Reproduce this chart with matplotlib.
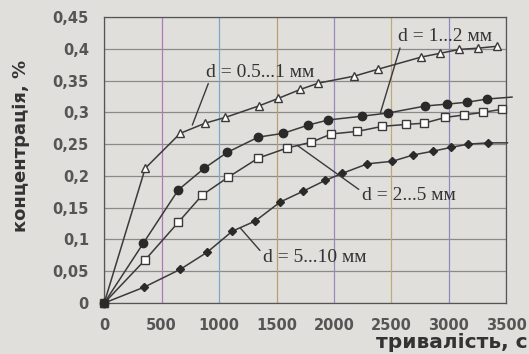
import matplotlib.pyplot as plt
import numpy as np

# d = 0.5...1 mm (triangles)
t_tri = [0, 357, 662, 880, 1054, 1345, 1516, 1707, 1865, 2178, 2387, 2761, 2927, 3092, 3258, 3423]
c_tri = [0, 0.212, 0.267, 0.283, 0.292, 0.31, 0.322, 0.336, 0.346, 0.357, 0.368, 0.387, 0.393, 0.399, 0.401, 0.404]

# d = 1...2 mm (filled circles)
t_circ = [0, 340, 645, 871, 1071, 1341, 1559, 1777, 1951, 2247, 2474, 2796, 2988, 3162, 3336]
c_circ = [0, 0.094, 0.178, 0.212, 0.237, 0.261, 0.267, 0.28, 0.288, 0.294, 0.299, 0.31, 0.313, 0.316, 0.321]

# d = 2...5 mm (open squares)
t_sq = [0, 357, 645, 854, 1080, 1341, 1594, 1803, 1977, 2204, 2422, 2631, 2787, 2970, 3136, 3301, 3467]
c_sq = [0, 0.068, 0.127, 0.17, 0.198, 0.228, 0.244, 0.253, 0.266, 0.27, 0.278, 0.281, 0.283, 0.292, 0.296, 0.30, 0.305]

# d = 5...10 mm (filled diamonds)
t_dia = [0, 348, 662, 897, 1115, 1315, 1533, 1733, 1925, 2073, 2291, 2509, 2692, 2866, 3023, 3171, 3345]
c_dia = [0, 0.025, 0.053, 0.08, 0.113, 0.129, 0.159, 0.176, 0.193, 0.204, 0.219, 0.223, 0.233, 0.239, 0.245, 0.25, 0.252]

x_ticks = [0, 500, 1000, 1500, 2000, 2500, 3000, 3500]
y_ticks = [0, 0.05, 0.1, 0.15, 0.2, 0.25, 0.3, 0.35, 0.4, 0.45]

paper = '#e0dfdb'
ink = '#3a3a3a'

fig = plt.figure(figsize=(5.29, 3.54), dpi=100, facecolor=paper)
ax = fig.add_axes([0.197, 0.144, 0.760, 0.808])
ax.set_facecolor(paper)

# grid (vertical lines have the scanner's colour tint)
for y in y_ticks:
    ax.axhline(y, color='#8a8a8a', lw=0.9, zorder=1)
vcols = ['#7a70b0', '#b07ab8', '#7aa8c8', '#b8a070', '#9a88b8', '#c0a878', '#8a8ac0', '#8aa8c8']
for x, col in zip(x_ticks, vcols):
    ax.axvline(x, color=col, lw=0.9, zorder=1)

ax.plot(t_tri, c_tri, color=ink, lw=1.1, marker='^', ms=6, mfc='white',
        mec=ink, mew=1.0, zorder=3, clip_on=False)
ax.plot(t_circ + [3550], c_circ + [0.324], color=ink, lw=1.1, zorder=3, clip_on=False)
ax.plot(t_circ, c_circ, ls='none', marker='o', ms=6, color='#2a2a2a', zorder=4, clip_on=False)
ax.plot(t_sq, c_sq, color=ink, lw=1.1, marker='s', ms=6, mfc='white',
        mec=ink, mew=1.0, zorder=3, clip_on=False)
ax.plot(t_dia + [3510], c_dia + [0.252], color=ink, lw=1.1, zorder=3, clip_on=False)
ax.plot(t_dia, c_dia, ls='none', marker='D', ms=4.5, color='#2a2a2a', zorder=4, clip_on=False)

ax.set_xlim(0, 3500)
ax.set_ylim(0, 0.45)
ax.set_xticks(x_ticks)
ax.set_yticks(y_ticks)
ax.set_xticklabels([str(v) for v in x_ticks])
ax.set_yticklabels(['0', '0,05', '0,1', '0,15', '0,2', '0,25', '0,3', '0,35', '0,4', '0,45'])
ax.tick_params(axis='x', length=0, pad=11, labelsize=10.5, colors='#555555')
ax.tick_params(axis='y', length=0, pad=11, labelsize=10.5, colors='#555555')
for lab in ax.get_xticklabels() + ax.get_yticklabels():
    lab.set_fontweight('bold')
for s in ax.spines.values():
    s.set_color('#555555')
    s.set_linewidth(0.9)

ax.set_ylabel('концентрація, %', fontsize=13, fontweight='bold', color='#333333')
ax.yaxis.set_label_coords(-0.184, 0.55)
fig.text(0.998, 0.005, 'тривалість, с', fontsize=14.5, fontweight='bold', color='#333333',
         ha='right', va='bottom')

serif = 'Liberation Serif'
txt = dict(fontsize=14, family=serif, color='#333333', zorder=5)
ax.annotate('d = 0.5...1 мм', xy=(767, 0.280), xytext=(890, 0.363), ha='left', va='center',
            arrowprops=dict(arrowstyle='-', color=ink, lw=1.0, shrinkA=0, shrinkB=0,
                            relpos=(0.03, 0.05)), **txt)
ax.annotate('d = 1...2 мм', xy=(2404, 0.299), xytext=(2560, 0.419), ha='left', va='center',
            arrowprops=dict(arrowstyle='-', color=ink, lw=1.0, shrinkA=0, shrinkB=0,
                            relpos=(0.03, 0.05)), **txt)
ax.annotate('d = 2...5 мм', xy=(1681, 0.248), xytext=(2240, 0.169), ha='left', va='center',
            arrowprops=dict(arrowstyle='-', color=ink, lw=1.0, shrinkA=0, shrinkB=0,
                            relpos=(0.0, 0.75)), **txt)
ax.annotate('d = 5...10 мм', xy=(1185, 0.118), xytext=(1380, 0.071), ha='left', va='center',
            arrowprops=dict(arrowstyle='-', color=ink, lw=1.0, shrinkA=0, shrinkB=0,
                            relpos=(0.0, 0.75)), **txt)

fig.savefig('out.png', dpi=100, facecolor=paper)
